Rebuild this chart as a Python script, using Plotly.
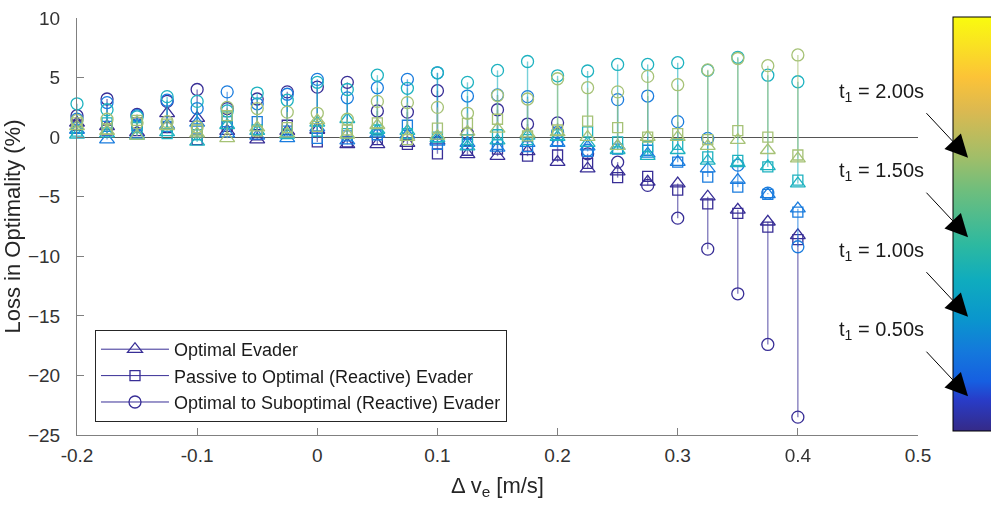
import plotly.graph_objects as go

# Velocity perturbation of the evader [m/s]
delta_ve = [-0.2, -0.175, -0.15, -0.125, -0.1, -0.075, -0.05, -0.025, 0.0, 0.025,
            0.05, 0.075, 0.1, 0.125, 0.15, 0.175, 0.2, 0.225, 0.25, 0.275,
            0.3, 0.325, 0.35, 0.375, 0.4]

# Switching times t1 [s] and their colours (parula)
t1_values = [0.5, 1.0, 1.5, 2.0]
t1_colors = ["rgb(56,46,150)", "rgb(26,124,222)", "rgb(30,178,192)", "rgb(166,194,118)"]

# Loss in optimality (%) - optimal evader
opt_t050 = [1.2, 0.9, 0.4, 2.0, 1.6, 0.5, -0.2, 0.5, 0.6, -0.6, -0.6, -0.5, -0.3, -1.45, -1.6,
            -1.2, -2.1, -2.65, -2.9, -3.75, -3.9, -5.0, -6.1, -7.1, -8.25]
opt_t100 = [0.6, -0.2, 0.2, 1.0, 1.2, 0.3, 0.1, -0.1, 0.8, -0.3, 0.3, 0.2, -0.4, -0.5, -0.9,
            -0.5, -0.5, -0.8, -0.75, -1.4, -2.1, -2.65, -3.6, -4.8, -6.0]
opt_t150 = [0.2, 0.3, 0.1, 0.4, -0.4, 1.0, 0.5, 0.2, 1.2, 1.5, 0.6, 0.5, -0.1, -0.8, -0.3,
            0.1, 0.0, -0.5, -1.1, -1.6, -1.1, -2.0, -2.2, -2.45, -3.9]
opt_t200 = [0.9, 0.5, 0.1, 0.9, 0.3, -0.1, 0.8, 0.3, 1.4, 0.2, 1.0, 0.0, 0.1, 0.45, 0.7,
            0.3, 0.4, 0.0, -0.75, 0.0, 0.0, -0.75, -0.25, -1.1, -1.8]

# Loss in optimality (%) - passive to optimal (reactive) evader
pas_t050 = [1.0, 0.6, 1.2, 0.8, -0.2, 0.9, 0.2, 1.0, -0.4, -0.4, -0.2, -0.6, -1.4, -1.1, -1.0,
            -1.6, -1.5, -2.2, -3.4, -3.3, -4.45, -5.6, -6.4, -7.55, -8.6]
pas_t100 = [0.8, 0.9, 1.0, 0.9, 0.7, 1.3, 1.3, 0.5, -0.1, 0.1, 0.2, 1.0, -0.6, -0.6, -0.6,
            -0.8, -0.3, -1.2, -1.0, -1.1, -2.1, -3.35, -4.2, -4.8, -6.3]
pas_t150 = [0.5, 1.2, 0.8, 0.3, 0.2, 1.7, 0.6, 0.3, 0.5, 0.3, 0.6, 0.3, 0.0, -0.2, 0.2,
            -0.2, 0.2, 0.45, -0.4, -0.8, -0.6, -1.65, -1.95, -2.5, -3.6]
pas_t200 = [1.2, 0.7, 1.4, 1.1, 0.6, 1.8, 0.5, 0.8, 0.9, 0.6, 1.2, -0.2, 0.75, 1.15, 1.5,
            0.1, 0.6, 1.35, 0.8, 0.0, 0.3, -0.2, 0.55, 0.0, -1.5]

# Loss in optimality (%) - optimal to suboptimal (reactive) evader
sub_t050 = [1.8, 3.2, 1.9, 3.0, 4.0, 2.4, 3.2, 3.8, 4.2, 4.6, 2.2, 2.1, 3.9, 0.3, 2.3,
            1.1, 1.2, -1.4, -2.1, -4.05, -6.8, -9.4, -13.15, -17.4, -23.5]
sub_t100 = [1.5, 2.9, 1.8, 3.1, 2.4, 3.8, 2.8, 3.6, 4.85, 3.3, 4.15, 4.85, 5.4, 3.45, 3.55,
            3.4, 0.4, -1.1, 3.15, 3.45, 1.3, -0.1, -2.35, -4.7, -9.2]
sub_t150 = [2.8, 2.3, 1.7, 3.4, 3.0, 2.2, 3.7, 3.1, 4.6, 4.0, 5.2, 4.1, 5.4, 4.6, 5.6,
            6.35, 5.15, 5.55, 6.1, 6.1, 6.25, 5.6, 6.7, 5.2, 4.65]
sub_t200 = [1.4, 1.5, 1.2, 1.3, 0.85, 2.5, 2.4, 2.1, 2.0, 1.5, 3.0, 2.9, 2.5, 2.0, 3.5,
            3.2, 4.9, 4.15, 3.8, 5.1, 4.4, 5.65, 6.6, 6.0, 6.9]

series_names = ["Optimal Evader",
                "Passive to Optimal (Reactive) Evader",
                "Optimal to Suboptimal (Reactive) Evader"]
series_symbols = ["triangle-up-open", "square-open", "circle-open"]
series_sizes = [13, 10, 12]

x_ticks = [-0.2, -0.1, 0.0, 0.1, 0.2, 0.3, 0.4, 0.5]
x_ticktext = ["-0.2", "-0.1", "0", "0.1", "0.2", "0.3", "0.4", "0.5"]
y_ticks = [-25, -20, -15, -10, -5, 0, 5, 10]

per_t1 = [
    (opt_t050, pas_t050, sub_t050),
    (opt_t100, pas_t100, sub_t100),
    (opt_t150, pas_t150, sub_t150),
    (opt_t200, pas_t200, sub_t200),
]

FONT = "Liberation Sans, Arial, Helvetica, sans-serif"

fig = go.Figure()

for color, groups in zip(t1_colors, per_t1):
    # vertical stem joining the three evader strategies at each perturbation
    sx, sy = [], []
    for i, xv in enumerate(delta_ve):
        vals = [g[i] for g in groups]
        sx += [xv, xv, None]
        sy += [min(vals), max(vals), None]
    fig.add_trace(go.Scatter(x=sx, y=sy, mode="lines", showlegend=False, hoverinfo="skip",
                             line=dict(color=color, width=1.4), opacity=0.6, cliponaxis=False))
    for vals, sym, size in zip(groups, series_symbols, series_sizes):
        fig.add_trace(go.Scatter(x=delta_ve, y=vals, mode="markers", showlegend=False,
                                 cliponaxis=False,
                                 marker=dict(symbol=sym, size=size, color=color,
                                             line=dict(width=1.3, color=color))))

# legend entries
for k, (name, sym, size) in enumerate(zip(series_names, series_symbols, series_sizes)):
    fig.add_trace(go.Scatter(x=[None], y=[None], mode="lines+markers", name=name,
                             line=dict(color=t1_colors[0], width=1),
                             marker=dict(symbol=sym, size=size, color=t1_colors[0],
                                         line=dict(width=1.3, color=t1_colors[0]))))

# colour scale for t1
parula = [
    [0.000, "rgb(53,42,135)"], [0.075, "rgb(40,60,200)"], [0.120, "rgb(22,95,225)"],
    [0.190, "rgb(20,120,220)"], [0.270, "rgb(10,150,205)"], [0.365, "rgb(15,172,190)"],
    [0.450, "rgb(45,185,160)"], [0.580, "rgb(110,190,125)"], [0.660, "rgb(160,190,105)"],
    [0.775, "rgb(220,185,80)"], [0.855, "rgb(252,195,55)"], [0.930, "rgb(250,225,35)"],
    [1.000, "rgb(249,251,14)"],
]
cmin, cmax = 0.281, 2.885
cb_y0, cb_len = 0.0096, 0.9928
fig.add_trace(go.Scatter(x=[None], y=[None], mode="markers", showlegend=False, hoverinfo="skip",
                         marker=dict(color=[t1_values[0]], coloraxis="coloraxis")))

annotations = []
for t1 in t1_values:
    head_y = cb_y0 + (t1 - cmin) / (cmax - cmin) * cb_len
    annotations.append(dict(x=1.0595, y=head_y, xref="paper", yref="paper", text="",
                            showarrow=True, arrowhead=2, arrowsize=4.5, arrowwidth=1,
                            arrowcolor="black", ax=-43, ay=-46))
    annotations.append(dict(x=0.957, y=head_y + 0.157, xref="paper", yref="paper",
                            text=f"t<sub>1</sub> = {t1:.2f}s", showarrow=False,
                            xanchor="center", yanchor="middle",
                            font=dict(family=FONT, size=20, color="#1a1a1a")))

fig.update_layout(
    width=991, height=506,
    margin=dict(l=77, r=73, t=18, b=71, autoexpand=False),
    paper_bgcolor="white", plot_bgcolor="white",
    font=dict(family=FONT, color="#262626"),
    coloraxis=dict(colorscale=parula, cmin=cmin, cmax=cmax,
                   colorbar=dict(x=1.0416, xanchor="left", y=cb_y0, yanchor="bottom",
                                 len=cb_len, lenmode="fraction", thickness=40,
                                 thicknessmode="pixels", xpad=0, ypad=0,
                                 outlinewidth=1, outlinecolor="black",
                                 showticklabels=False, ticks="")),
    xaxis=dict(range=[-0.2, 0.5], tickvals=x_ticks, ticktext=x_ticktext,
               ticks="inside", ticklen=7, tickcolor="#808080", showline=True,
               linecolor="#808080", linewidth=1, showgrid=False, zeroline=False,
               tickfont=dict(size=19, color="#333333"), ticklabelstandoff=3,
               title=dict(text="Δ v<sub>e</sub> [m/s]", font=dict(size=22, color="#262626"),
                          standoff=12)),
    yaxis=dict(range=[-25, 10], tickvals=y_ticks, ticks="inside", ticklen=7,
               tickcolor="#808080", showline=True, linecolor="#808080", linewidth=1,
               showgrid=False, zeroline=True, zerolinecolor="#555555", zerolinewidth=1,
               tickfont=dict(size=19, color="#333333"), ticklabelstandoff=12,
               title=dict(text="Loss in Optimality (%)", font=dict(size=22, color="#262626"),
                          standoff=5)),
    legend=dict(x=0.0214, y=0.2518, xanchor="left", yanchor="top",
                bgcolor="white", bordercolor="#262626", borderwidth=1,
                itemwidth=68,
                font=dict(size=18, color="#1a1a1a")),
    annotations=annotations,
)

fig.write_html("out.html")
